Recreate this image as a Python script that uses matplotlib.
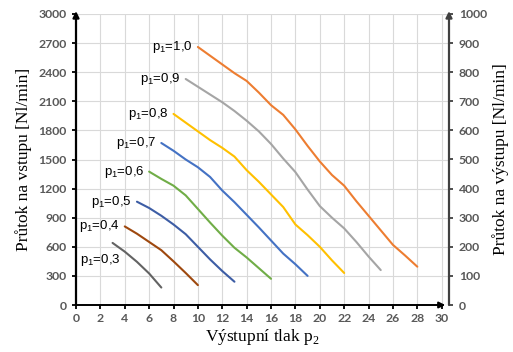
import matplotlib
matplotlib.use("Agg")
import matplotlib.pyplot as plt

plt.rcParams['mathtext.fontset'] = 'custom'
plt.rcParams['mathtext.rm'] = 'Liberation Sans'
plt.rcParams['mathtext.sf'] = 'Liberation Serif'

labels = ["p$_{\\mathrm{1}}$=0,3", "p$_{\\mathrm{1}}$=0,4", "p$_{\\mathrm{1}}$=0,5", "p$_{\\mathrm{1}}$=0,6",
          "p$_{\\mathrm{1}}$=0,7", "p$_{\\mathrm{1}}$=0,8", "p$_{\\mathrm{1}}$=0,9", "p$_{\\mathrm{1}}$=1,0"]

x03 = [3, 4, 5, 6, 7]
y03 = [640, 550, 445, 325, 180]
x04 = [4, 5, 6, 7, 8, 9, 10]
y04 = [810, 735, 650, 565, 450, 330, 205]
x05 = [5, 6, 7, 8, 9, 10, 11, 12, 13]
y05 = [1065, 1000, 920, 830, 730, 600, 470, 350, 240]
x06 = [6, 7, 8, 9, 10, 11, 12, 13, 14, 15, 16]
y06 = [1375, 1300, 1230, 1130, 990, 850, 715, 590, 490, 380, 270]
x07 = [7, 8, 9, 10, 11, 12, 13, 14, 15, 16, 17, 18, 19]
y07 = [1670, 1590, 1500, 1420, 1320, 1180, 1060, 930, 800, 665, 530, 420, 300]
x08 = [8, 9, 10, 11, 12, 13, 14, 15, 16, 17, 18, 19, 20, 21, 22]
y08 = [1970, 1880, 1790, 1700, 1620, 1530, 1390, 1270, 1140, 1010, 830, 720, 600, 460, 330]
x09 = [9, 10, 11, 12, 13, 14, 15, 16, 17, 18, 19, 20, 21, 22, 23, 24, 25]
y09 = [2330, 2250, 2170, 2090, 2000, 1900, 1790, 1660, 1510, 1370, 1190, 1020, 900, 790, 650, 500, 360]
x10 = [10, 11, 12, 13, 14, 15, 16, 17, 18, 19, 20, 21, 22, 23, 24, 25, 26, 27, 28]
y10 = [2660, 2570, 2480, 2390, 2310, 2190, 2060, 1960, 1810, 1640, 1480, 1340, 1230, 1070, 920, 770, 620, 510, 395]

xs = [x03, x04, x05, x06, x07, x08, x09, x10]
ys = [y03, y04, y05, y06, y07, y08, y09, y10]
colors = ["#636363", "#9E480E", "#3D5DA5", "#70AD47", "#4472C4", "#FFC000", "#A5A5A5", "#ED7D31"]

x_ticks = list(range(0, 31, 2))
yl_ticks = list(range(0, 3001, 300))
yr_ticks = list(range(0, 1001, 100))

fig = plt.figure(figsize=(5.13, 3.52), dpi=100)
ax = fig.add_axes([76/513, 47/352, 373/513, 291/352])
ax.set_xlim(0, 30.6)
ax.set_ylim(0, 3000)
ax.set_xticks(x_ticks)
ax.set_yticks(yl_ticks)
ax.grid(True, color="#D9D9D9", lw=0.8)
ax.set_axisbelow(True)
for s in ax.spines.values():
    s.set_visible(False)

for x, y, c in zip(xs, ys, colors):
    ax.plot(x, y, color=c, lw=1.5, solid_capstyle='round', solid_joinstyle='round')

lab_font = dict(family="Liberation Sans", fontsize=9.5, color="black", va="center")
for i, (x, y, t) in enumerate(zip(xs, ys, labels)):
    if i == 0:
        ax.text(x[0] + 0.7, y[0] - 180, t, ha="right", **lab_font)
    else:
        ax.text(x[0] - 0.4, y[0], t, ha="right", **lab_font)

ax.tick_params(axis="both", colors="#595959", length=3, width=1.3, labelsize=8.8)
ax.tick_params(axis="y", color="black", pad=4)
ax.tick_params(axis="x", color="black", pad=3)
for lab in ax.get_xticklabels() + ax.get_yticklabels():
    lab.set_fontfamily("Lato")
    lab.set_fontweight("bold")

ax.set_xlabel("Výstupní tlak p$_\\mathsf{2}$", family="Liberation Serif", fontsize=12.5, labelpad=2)
ax.set_ylabel("Průtok na vstupu [Nl/min]", family="Liberation Serif", fontsize=12.5, labelpad=4)

# axes with arrows
ax.annotate("", xy=(0, 1.01), xytext=(0, 0), xycoords="axes fraction",
            arrowprops=dict(arrowstyle="-|>", color="black", lw=1.6, mutation_scale=9, shrinkA=0, shrinkB=0))
ax.annotate("", xy=(0.99, 0), xytext=(0, 0), xycoords="axes fraction",
            arrowprops=dict(arrowstyle="-|>", color="black", lw=1.4, mutation_scale=9, shrinkA=0, shrinkB=0))

ax2 = ax.twinx()
ax2.set_ylim(0, 1000)
ax2.set_yticks(yr_ticks)
for s in ax2.spines.values():
    s.set_visible(False)
ax2.tick_params(axis="y", colors="#595959", color="#404040", length=3, width=1.3, labelsize=8.8, pad=4)
for lab in ax2.get_yticklabels():
    lab.set_fontfamily("Lato")
    lab.set_fontweight("bold")
ax2.set_ylabel("Průtok na výstupu [Nl/min]", family="Liberation Serif", fontsize=12.5, labelpad=4)
ax2.annotate("", xy=(1, 1.01), xytext=(1, 0), xycoords="axes fraction",
             arrowprops=dict(arrowstyle="-|>", color="#404040", lw=1.6, mutation_scale=9, shrinkA=0, shrinkB=0))

fig.savefig("out.png", dpi=100)
